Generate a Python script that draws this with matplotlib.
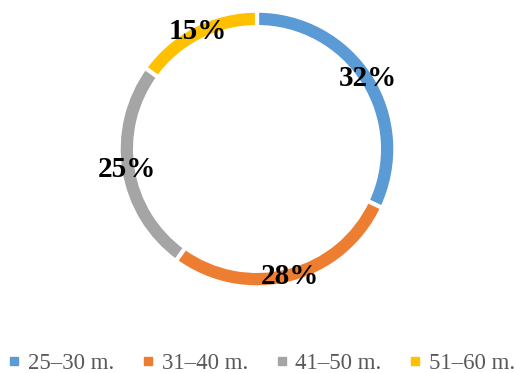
import matplotlib.pyplot as plt
from matplotlib.lines import Line2D

# age groups and their shares (%)
groups = ['25–30 m.', '31–40 m.', '41–50 m.', '51–60 m.']
shares = [32, 28, 25, 15]
colors = ['#5B9BD5', '#ED7D31', '#A5A5A5', '#FFC000']

plt.rcParams['font.family'] = ['Liberation Serif', 'DejaVu Serif']

fig = plt.figure(figsize=(5.15, 3.73), dpi=100)
W, H = 515, 373
cx, cy, r = 257, 149, 137
ax = fig.add_axes([(cx - r) / W, (H - cy - r) / H, 2 * r / W, 2 * r / H])

gap = 3.0  # white separator, points
wedges, _, autotexts = ax.pie(
    shares, colors=colors, startangle=90, counterclock=False,
    radius=1.01, autopct='%1.0f%%', pctdistance=0.95,
    wedgeprops=dict(width=0.12, edgecolor='white', linewidth=gap),
    textprops=dict(fontsize=21, fontweight='bold', color='black'))
ax.set_xlim(-1, 1)
ax.set_ylim(-1, 1)
ax.set_aspect('equal')

handles = [Line2D([], [], marker='s', linestyle='none', markersize=5.5,
                  markerfacecolor=c, markeredgecolor=c) for c in colors]
fig.legend(handles, groups, loc='lower center', ncol=4, frameon=False,
           bbox_to_anchor=(0.505, -0.057), fontsize=16.5, handletextpad=0.2,
           columnspacing=1.07, handlelength=0.8, labelcolor='#595959')

fig.savefig('out.png', dpi=100)
